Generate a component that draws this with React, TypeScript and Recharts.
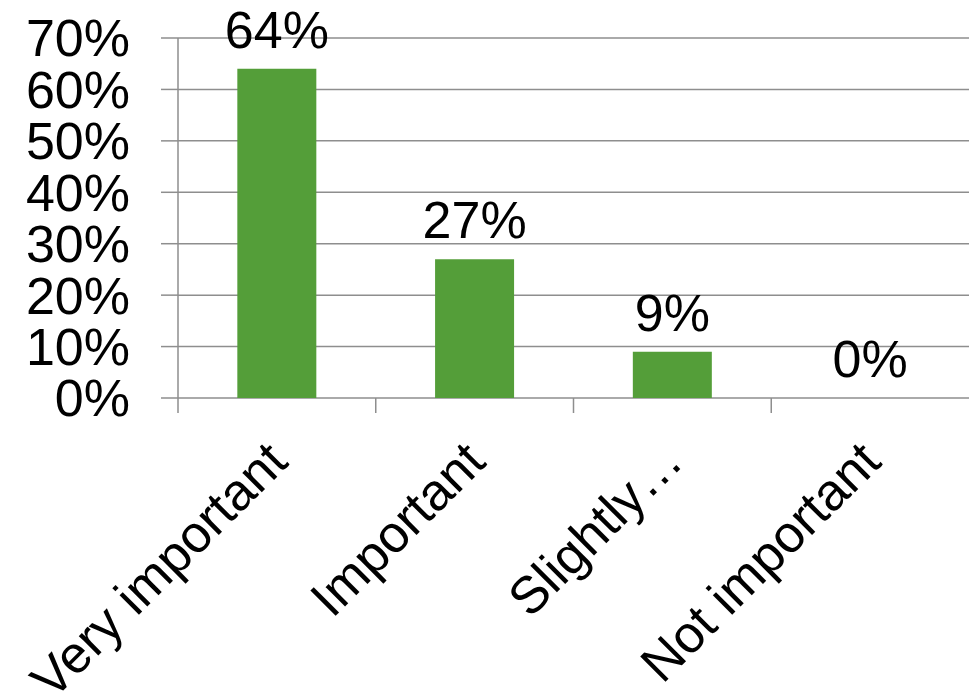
import React from "react";
import { ComposedChart, Bar, Line, XAxis, YAxis, CartesianGrid, LabelList } from "recharts";

const categories = ["Very important", "Important", "Slightly…", "Not important"];
const shares = [64, 27, 9, 0];
const yTicks = [0, 10, 20, 30, 40, 50, 60, 70];

const chartData = categories.map((name, i) => ({ name, share: shares[i] }));

const FONT = '"Liberation Sans", Arial, sans-serif';
const GRID = "#8E8E8E";
const BAR = "#549E39";

function CategoryTick(props: any) {
  const { x, y, payload } = props;
  const half = payload?.offset ?? 98.875;
  const edge = x - half;
  const px = x + 13;
  const py = y + 66;
  return (
    <g>
      <line x1={edge} y1={y} x2={edge} y2={y + 15} stroke={GRID} strokeWidth={1.5} />
      <text
        x={px}
        y={py}
        textAnchor="end"
        transform={`rotate(-45 ${px} ${py})`}
        fontSize={52}
        fontFamily={FONT}
        fill="#000"
      >
        {payload.value}
      </text>
    </g>
  );
}

export default function App() {
  return (
    <div style={{ position: "fixed", left: 0, top: 0, width: 969, height: 698, background: "#fff" }}>
      <ComposedChart
        width={969}
        height={698}
        data={chartData}
        margin={{ top: 38, right: 0, bottom: 0, left: 0 }}
        barCategoryGap="30%"
      >
        <CartesianGrid vertical={false} stroke={GRID} strokeWidth={1.5} />
        <XAxis
          dataKey="name"
          height={300}
          axisLine={false}
          tickLine={false}
          tickSize={0}
          tickMargin={0}
          interval={0}
          tick={<CategoryTick />}
        />
        <YAxis
          width={178}
          domain={[0, 70]}
          ticks={yTicks}
          interval={0}
          tickFormatter={(v: number) => `${v}%`}
          axisLine={{ stroke: GRID, strokeWidth: 1.5 }}
          tickLine={{ stroke: GRID, strokeWidth: 1.5 }}
          tickSize={17}
          tickMargin={31}
          tick={{ fontSize: 52, fontFamily: FONT, fill: "#000" }}
        />
        <Bar dataKey="share" fill={BAR} isAnimationActive={false} />
        <Line
          dataKey="share"
          stroke="none"
          dot={false}
          activeDot={false}
          legendType="none"
          isAnimationActive={false}
        >
          <LabelList
            dataKey="share"
            position="top"
            offset={21}
            formatter={(v: any) => `${v}%`}
            style={{ fontSize: 52, fontFamily: FONT, fill: "#000" }}
          />
        </Line>
      </ComposedChart>
    </div>
  );
}
